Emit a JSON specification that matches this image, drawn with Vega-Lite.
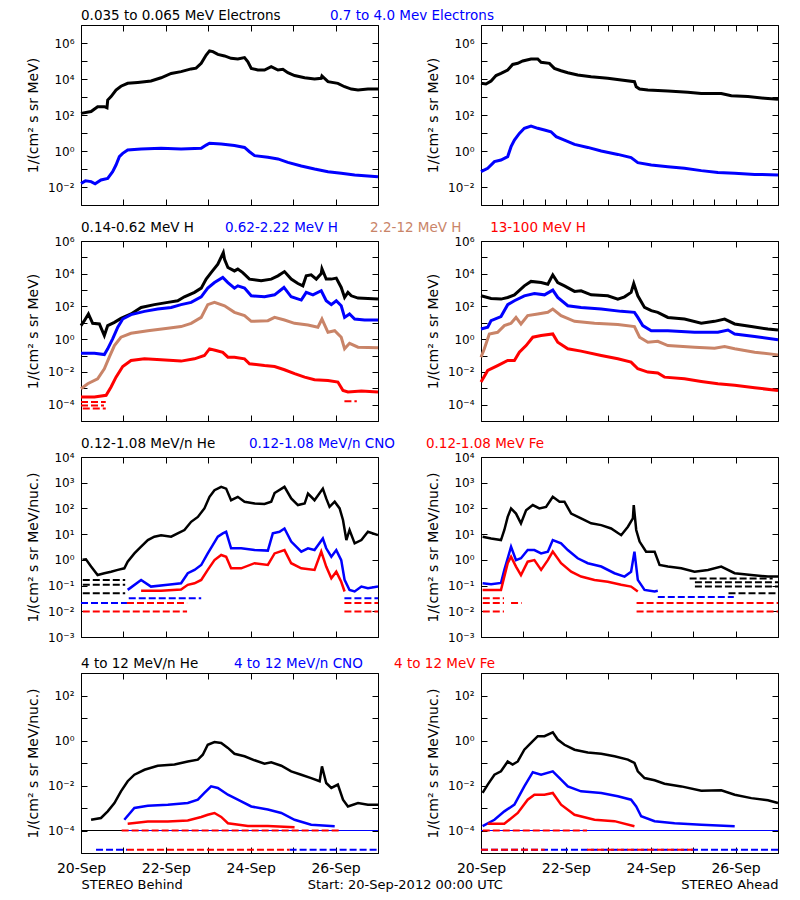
{
"$schema": "https://vega.github.io/schema/vega-lite/v6.json",
"background": "white",
"padding": {"left": 26, "top": 8, "right": 5, "bottom": 5},
"config": {
 "view": {"stroke": "#000000", "strokeWidth": 1},
 "axis": {"ticks": false, "domain": false, "grid": true, "gridColor": "#000000", "gridOpacity": 1, "gridWidth": 1, "labelFlush": false, "labelOverlap": false, "labelColor": "#000000", "titleColor": "#000000", "labelFont": "DejaVu Sans", "titleFont": "DejaVu Sans", "titleFontWeight": "normal"},
 "axisX": {"gridDash": [6, 168], "labelFontSize": 14, "labelPadding": 8, "titleFontSize": 13, "titlePadding": 3},
 "axisY": {"gridDash": [6, 285], "labelFontSize": 12, "labelPadding": 7, "titleFontSize": 14, "titlePadding": 7},
 "text": {"font": "DejaVu Sans", "fontSize": 13.5}
},
"title": {"text": "Start: 20-Sep-2012 00:00 UTC", "orient": "bottom", "anchor": "middle", "frame": "bounds", "offset": -13, "font": "DejaVu Sans", "fontSize": 13, "fontWeight": "normal", "color": "#000000"},
"datasets": {
"labels": [
{"p":"B1","k":1,"s":"lo","label":"0.035 to 0.065 MeV Electrons"},{"p":"B1","k":2,"s":"hi","label":"0.7 to 4.0 Mev Electrons"},
{"p":"B2","k":1,"s":"p1","label":"0.14-0.62 MeV H"},{"p":"B2","k":2,"s":"p2","label":"0.62-2.22 MeV H"},{"p":"B2","k":3,"s":"p3","label":"2.2-12 MeV H"},{"p":"A2","k":1,"s":"p4","label":"13-100 MeV H"},
{"p":"B3","k":1,"s":"he","label":"0.12-1.08 MeV/n He"},{"p":"B3","k":2,"s":"cno","label":"0.12-1.08 MeV/n CNO"},{"p":"B3","k":3,"s":"fe","label":"0.12-1.08 MeV Fe"},
{"p":"B4","k":1,"s":"he","label":"4 to 12 MeV/n He"},{"p":"B4","k":2,"s":"cno","label":"4 to 12 MeV/n CNO"},{"p":"B4","k":3,"s":"fe","label":"4 to 12 MeV Fe"}
],
"B1": [
{"h":0,"s":"lo","v":123},{"h":5.7,"s":"lo","v":155},{"h":9.4,"s":"lo","v":288},{"h":13.2,"s":"lo","v":288},{"h":14.7,"s":"lo","v":250},{"h":15.1,"s":"lo","v":676},{"h":17,"s":"lo","v":1050},{"h":19.8,"s":"lo","v":2450},{"h":22.6,"s":"lo","v":3980},{"h":26.4,"s":"lo","v":5750},{"h":32.1,"s":"lo","v":6460},{"h":39.6,"s":"lo","v":7760},{"h":45.3,"s":"lo","v":11700},{"h":51,"s":"lo","v":20400},{"h":56.6,"s":"lo","v":25700},{"h":62.3,"s":"lo","v":36300},{"h":65.1,"s":"lo","v":39800},{"h":68,"s":"lo","v":74100},{"h":70.8,"s":"lo","v":214000},{"h":72.7,"s":"lo","v":363000},{"h":74.6,"s":"lo","v":331000},{"h":77.4,"s":"lo","v":234000},{"h":81.2,"s":"lo","v":191000},{"h":84.9,"s":"lo","v":141000},{"h":88.7,"s":"lo","v":129000},{"h":92.5,"s":"lo","v":155000},{"h":94.4,"s":"lo","v":91200},{"h":96.3,"s":"lo","v":38900},{"h":100,"s":"lo","v":31600},{"h":103.8,"s":"lo","v":31600},{"h":107.6,"s":"lo","v":49000},{"h":111.4,"s":"lo","v":31600},{"h":114.2,"s":"lo","v":34700},{"h":117,"s":"lo","v":22400},{"h":120.8,"s":"lo","v":15500},{"h":126.5,"s":"lo","v":11700},{"h":132.1,"s":"lo","v":10000},{"h":135.9,"s":"lo","v":11000},{"h":136.3,"s":"lo","v":14800},{"h":139.7,"s":"lo","v":7080},{"h":145.3,"s":"lo","v":5750},{"h":149.1,"s":"lo","v":3720},{"h":152.9,"s":"lo","v":2750},{"h":156.7,"s":"lo","v":2450},{"h":162.3,"s":"lo","v":2750},{"h":168,"s":"lo","v":2750},
{"h":0,"s":"hi","v":0.0158},{"h":2.5,"s":"hi","v":0.022},{"h":5.7,"s":"hi","v":0.02},{"h":8,"s":"hi","v":0.015},{"h":11.3,"s":"hi","v":0.0245},{"h":15.1,"s":"hi","v":0.03},{"h":17.9,"s":"hi","v":0.0708},{"h":19.8,"s":"hi","v":0.166},{"h":21.7,"s":"hi","v":0.49},{"h":23.6,"s":"hi","v":0.74},{"h":26.4,"s":"hi","v":1.15},{"h":34,"s":"hi","v":1.29},{"h":45.3,"s":"hi","v":1.41},{"h":56.6,"s":"hi","v":1.29},{"h":68,"s":"hi","v":1.41},{"h":70.8,"s":"hi","v":2.14},{"h":72.7,"s":"hi","v":2.69},{"h":79.3,"s":"hi","v":2.45},{"h":86.8,"s":"hi","v":2.0},{"h":92.5,"s":"hi","v":1.58},{"h":95.3,"s":"hi","v":0.91},{"h":98.2,"s":"hi","v":0.55},{"h":105.7,"s":"hi","v":0.447},{"h":111.4,"s":"hi","v":0.363},{"h":117,"s":"hi","v":0.234},{"h":124.6,"s":"hi","v":0.148},{"h":132.1,"s":"hi","v":0.1},{"h":139.7,"s":"hi","v":0.0708},{"h":147.2,"s":"hi","v":0.0575},{"h":154.8,"s":"hi","v":0.0468},{"h":162.3,"s":"hi","v":0.0407},{"h":168,"s":"hi","v":0.0372}
],
"A1": [
{"h":0,"s":"lo","v":5750},{"h":2.8,"s":"lo","v":5300},{"h":5.7,"s":"lo","v":7760},{"h":8.5,"s":"lo","v":15500},{"h":11.3,"s":"lo","v":20400},{"h":15.1,"s":"lo","v":31600},{"h":17.9,"s":"lo","v":64600},{"h":20.8,"s":"lo","v":74100},{"h":23.6,"s":"lo","v":100000},{"h":28.3,"s":"lo","v":129000},{"h":32.1,"s":"lo","v":129000},{"h":34,"s":"lo","v":85100},{"h":38.7,"s":"lo","v":74100},{"h":41.5,"s":"lo","v":38900},{"h":45.3,"s":"lo","v":28800},{"h":49.1,"s":"lo","v":22400},{"h":54.7,"s":"lo","v":16600},{"h":62.3,"s":"lo","v":13500},{"h":71.7,"s":"lo","v":11000},{"h":79.3,"s":"lo","v":8710},{"h":86.8,"s":"lo","v":7080},{"h":87.8,"s":"lo","v":3720},{"h":89.7,"s":"lo","v":2750},{"h":94.4,"s":"lo","v":2450},{"h":105.7,"s":"lo","v":2140},{"h":117,"s":"lo","v":1820},{"h":124.6,"s":"lo","v":1580},{"h":135.9,"s":"lo","v":1580},{"h":141.6,"s":"lo","v":1170},{"h":151,"s":"lo","v":1050},{"h":160.4,"s":"lo","v":851},{"h":168,"s":"lo","v":741},
{"h":0,"s":"hi","v":0.0708},{"h":3.8,"s":"hi","v":0.11},{"h":7.6,"s":"hi","v":0.257},{"h":11.3,"s":"hi","v":0.316},{"h":15.1,"s":"hi","v":0.49},{"h":17,"s":"hi","v":1.74},{"h":18.9,"s":"hi","v":4.07},{"h":21.7,"s":"hi","v":9.55},{"h":24.5,"s":"hi","v":18.2},{"h":28.3,"s":"hi","v":24.5},{"h":32.1,"s":"hi","v":18.2},{"h":35.9,"s":"hi","v":14.8},{"h":39.6,"s":"hi","v":11.7},{"h":42.5,"s":"hi","v":6.31},{"h":47.2,"s":"hi","v":4.07},{"h":52.9,"s":"hi","v":2.34},{"h":60.4,"s":"hi","v":1.58},{"h":68,"s":"hi","v":1.0},{"h":77.4,"s":"hi","v":0.646},{"h":84.9,"s":"hi","v":0.427},{"h":88.7,"s":"hi","v":0.224},{"h":96.3,"s":"hi","v":0.166},{"h":105.7,"s":"hi","v":0.135},{"h":115.1,"s":"hi","v":0.11},{"h":124.6,"s":"hi","v":0.0813},{"h":134,"s":"hi","v":0.0646},{"h":143.5,"s":"hi","v":0.0575},{"h":154.8,"s":"hi","v":0.0501},{"h":168,"s":"hi","v":0.0468}
],
"B2": [
{"h":0,"s":"p1","v":6.76},{"h":1.9,"s":"p1","v":13.5},{"h":4.2,"s":"p1","v":34.7},{"h":6.6,"s":"p1","v":9.33},{"h":10.4,"s":"p1","v":8.51},{"h":13.2,"s":"p1","v":1.66},{"h":15.1,"s":"p1","v":6.76},{"h":18.9,"s":"p1","v":10.7},{"h":22.6,"s":"p1","v":18.6},{"h":28.3,"s":"p1","v":34.7},{"h":34,"s":"p1","v":87.1},{"h":41.5,"s":"p1","v":129},{"h":49.1,"s":"p1","v":178},{"h":54.7,"s":"p1","v":224},{"h":58.5,"s":"p1","v":389},{"h":64.2,"s":"p1","v":724},{"h":68,"s":"p1","v":1320},{"h":70.8,"s":"p1","v":4680},{"h":73.6,"s":"p1","v":11700},{"h":77.4,"s":"p1","v":38000},{"h":80.5,"s":"p1","v":195000},{"h":81.2,"s":"p1","v":75900},{"h":83.1,"s":"p1","v":24000},{"h":86.8,"s":"p1","v":14800},{"h":88.7,"s":"p1","v":19100},{"h":91.5,"s":"p1","v":11700},{"h":95.3,"s":"p1","v":4680},{"h":101.9,"s":"p1","v":3720},{"h":107.6,"s":"p1","v":4680},{"h":111.4,"s":"p1","v":7410},{"h":115.1,"s":"p1","v":13500},{"h":118.9,"s":"p1","v":4680},{"h":122.7,"s":"p1","v":2510},{"h":125.5,"s":"p1","v":1820},{"h":127.4,"s":"p1","v":7410},{"h":130.2,"s":"p1","v":8510},{"h":133.1,"s":"p1","v":4680},{"h":135.9,"s":"p1","v":10200},{"h":136.3,"s":"p1","v":20000},{"h":138.7,"s":"p1","v":4680},{"h":141.6,"s":"p1","v":4680},{"h":144.4,"s":"p1","v":5370},{"h":147.2,"s":"p1","v":1450},{"h":149.1,"s":"p1","v":355},{"h":151,"s":"p1","v":724},{"h":152.9,"s":"p1","v":447},{"h":156.7,"s":"p1","v":324},{"h":162.3,"s":"p1","v":309},{"h":168,"s":"p1","v":282},
{"h":0,"s":"p2","v":0.138},{"h":7.6,"s":"p2","v":0.138},{"h":13.2,"s":"p2","v":0.115},{"h":15.1,"s":"p2","v":0.257},{"h":17.9,"s":"p2","v":1.05},{"h":20.8,"s":"p2","v":5.37},{"h":23.6,"s":"p2","v":17},{"h":28.3,"s":"p2","v":31.6},{"h":35.9,"s":"p2","v":50.1},{"h":43.4,"s":"p2","v":69.2},{"h":51,"s":"p2","v":87.1},{"h":56.6,"s":"p2","v":129},{"h":62.3,"s":"p2","v":178},{"h":68,"s":"p2","v":389},{"h":71.7,"s":"p2","v":1320},{"h":75.5,"s":"p2","v":2880},{"h":80.2,"s":"p2","v":5890},{"h":83.1,"s":"p2","v":2880},{"h":86.8,"s":"p2","v":1320},{"h":88.7,"s":"p2","v":1820},{"h":92.5,"s":"p2","v":1320},{"h":96.3,"s":"p2","v":447},{"h":103.8,"s":"p2","v":389},{"h":109.5,"s":"p2","v":513},{"h":114.8,"s":"p2","v":1450},{"h":118.9,"s":"p2","v":389},{"h":124.6,"s":"p2","v":245},{"h":127.4,"s":"p2","v":724},{"h":131.2,"s":"p2","v":513},{"h":135.9,"s":"p2","v":912},{"h":138.7,"s":"p2","v":224},{"h":141.6,"s":"p2","v":129},{"h":144.4,"s":"p2","v":224},{"h":147.2,"s":"p2","v":110},{"h":149.1,"s":"p2","v":21.4},{"h":151.9,"s":"p2","v":34.7},{"h":154.8,"s":"p2","v":17},{"h":160.4,"s":"p2","v":14.8},{"h":168,"s":"p2","v":14.8},
{"h":0,"s":"p3","v":0.00093},{"h":3.8,"s":"p3","v":0.0019},{"h":9.4,"s":"p3","v":0.0038},{"h":13.2,"s":"p3","v":0.0155},{"h":16,"s":"p3","v":0.0794},{"h":18.9,"s":"p3","v":0.407},{"h":22.6,"s":"p3","v":1.32},{"h":28.3,"s":"p3","v":2.29},{"h":37.8,"s":"p3","v":3.31},{"h":49.1,"s":"p3","v":4.68},{"h":56.6,"s":"p3","v":5.89},{"h":62.3,"s":"p3","v":9.33},{"h":68,"s":"p3","v":21.4},{"h":71.7,"s":"p3","v":129},{"h":75.5,"s":"p3","v":178},{"h":81.2,"s":"p3","v":110},{"h":86.8,"s":"p3","v":43.7},{"h":92.5,"s":"p3","v":27.5},{"h":96.3,"s":"p3","v":12.3},{"h":105.7,"s":"p3","v":13.5},{"h":109.5,"s":"p3","v":21.4},{"h":115.1,"s":"p3","v":14.8},{"h":120.8,"s":"p3","v":9.33},{"h":128.4,"s":"p3","v":7.41},{"h":134,"s":"p3","v":5.37},{"h":136.3,"s":"p3","v":17},{"h":139.7,"s":"p3","v":2.63},{"h":143.5,"s":"p3","v":3.31},{"h":147.2,"s":"p3","v":1.32},{"h":149.1,"s":"p3","v":0.257},{"h":151.9,"s":"p3","v":0.562},{"h":156.7,"s":"p3","v":0.324},{"h":168,"s":"p3","v":0.295},
{"h":0,"s":"p4","v":0.000295},{"h":7.6,"s":"p4","v":0.000295},{"h":14.2,"s":"p4","v":0.000372},{"h":17,"s":"p4","v":0.0012},{"h":19.8,"s":"p4","v":0.00479},{"h":23.6,"s":"p4","v":0.0214},{"h":28.3,"s":"p4","v":0.0501},{"h":35.9,"s":"p4","v":0.0631},{"h":45.3,"s":"p4","v":0.055},{"h":56.6,"s":"p4","v":0.0457},{"h":64.2,"s":"p4","v":0.0631},{"h":69.8,"s":"p4","v":0.1},{"h":72.7,"s":"p4","v":0.257},{"h":76.4,"s":"p4","v":0.204},{"h":80.2,"s":"p4","v":0.158},{"h":83.1,"s":"p4","v":0.0794},{"h":86.8,"s":"p4","v":0.0794},{"h":92.5,"s":"p4","v":0.0631},{"h":95.3,"s":"p4","v":0.0316},{"h":103.8,"s":"p4","v":0.0245},{"h":109.5,"s":"p4","v":0.0214},{"h":115.1,"s":"p4","v":0.0135},{"h":120.8,"s":"p4","v":0.00776},{"h":126.5,"s":"p4","v":0.00479},{"h":132.1,"s":"p4","v":0.00331},{"h":139.7,"s":"p4","v":0.00302},{"h":145.3,"s":"p4","v":0.0024},{"h":148.2,"s":"p4","v":0.00074},{"h":151,"s":"p4","v":0.00059},{"h":158.6,"s":"p4","v":0.00068},{"h":168,"s":"p4","v":0.00059}
],
"A2": [
{"h":0,"s":"p1","v":447},{"h":5.7,"s":"p1","v":309},{"h":11.3,"s":"p1","v":282},{"h":15.1,"s":"p1","v":355},{"h":18.9,"s":"p1","v":513},{"h":24.5,"s":"p1","v":1820},{"h":28.3,"s":"p1","v":3390},{"h":34,"s":"p1","v":2880},{"h":37.8,"s":"p1","v":2290},{"h":40.6,"s":"p1","v":8510},{"h":43.4,"s":"p1","v":2880},{"h":47.2,"s":"p1","v":1820},{"h":52.9,"s":"p1","v":832},{"h":56.6,"s":"p1","v":912},{"h":62.3,"s":"p1","v":513},{"h":71.7,"s":"p1","v":447},{"h":77.4,"s":"p1","v":282},{"h":81.2,"s":"p1","v":389},{"h":84.9,"s":"p1","v":724},{"h":86.4,"s":"p1","v":2510},{"h":88.7,"s":"p1","v":447},{"h":92.5,"s":"p1","v":87.1},{"h":96.3,"s":"p1","v":55},{"h":100,"s":"p1","v":43.7},{"h":105.7,"s":"p1","v":21.4},{"h":115.1,"s":"p1","v":17},{"h":124.6,"s":"p1","v":9.33},{"h":132.1,"s":"p1","v":12.3},{"h":137.8,"s":"p1","v":17},{"h":143.5,"s":"p1","v":8.51},{"h":152.9,"s":"p1","v":5.89},{"h":162.3,"s":"p1","v":4.17},{"h":168,"s":"p1","v":3.63},
{"h":0,"s":"p2","v":4.17},{"h":3.8,"s":"p2","v":5.37},{"h":5.7,"s":"p2","v":13.5},{"h":11.3,"s":"p2","v":24},{"h":15.1,"s":"p2","v":129},{"h":18.9,"s":"p2","v":224},{"h":24.5,"s":"p2","v":447},{"h":30.2,"s":"p2","v":617},{"h":35.9,"s":"p2","v":513},{"h":40.6,"s":"p2","v":1000},{"h":43.4,"s":"p2","v":355},{"h":49.1,"s":"p2","v":110},{"h":56.6,"s":"p2","v":87.1},{"h":68,"s":"p2","v":69.2},{"h":79.3,"s":"p2","v":50.1},{"h":86.8,"s":"p2","v":43.7},{"h":88.7,"s":"p2","v":21.4},{"h":91.5,"s":"p2","v":6.76},{"h":96.3,"s":"p2","v":3.31},{"h":105.7,"s":"p2","v":3.31},{"h":120.8,"s":"p2","v":2.63},{"h":134,"s":"p2","v":2.63},{"h":139.7,"s":"p2","v":3.63},{"h":143.5,"s":"p2","v":2.09},{"h":154.8,"s":"p2","v":1.45},{"h":168,"s":"p2","v":0.912},
{"h":0,"s":"p3","v":0.0794},{"h":1.9,"s":"p3","v":0.257},{"h":4.7,"s":"p3","v":2.09},{"h":9.4,"s":"p3","v":2.63},{"h":13.2,"s":"p3","v":6.76},{"h":17,"s":"p3","v":9.33},{"h":19.8,"s":"p3","v":21.4},{"h":22.6,"s":"p3","v":8.51},{"h":26.4,"s":"p3","v":27.5},{"h":32.1,"s":"p3","v":34.7},{"h":37.8,"s":"p3","v":43.7},{"h":40.6,"s":"p3","v":69.2},{"h":45.3,"s":"p3","v":27.5},{"h":52.9,"s":"p3","v":12.3},{"h":64.2,"s":"p3","v":9.33},{"h":77.4,"s":"p3","v":7.76},{"h":86.8,"s":"p3","v":5.89},{"h":89.7,"s":"p3","v":1.32},{"h":94.4,"s":"p3","v":0.646},{"h":100,"s":"p3","v":0.741},{"h":105.7,"s":"p3","v":0.407},{"h":120.8,"s":"p3","v":0.324},{"h":132.1,"s":"p3","v":0.282},{"h":137.8,"s":"p3","v":0.355},{"h":143.5,"s":"p3","v":0.257},{"h":154.8,"s":"p3","v":0.158},{"h":168,"s":"p3","v":0.11},
{"h":0,"s":"p4","v":0.0024},{"h":3.8,"s":"p4","v":0.0123},{"h":9.4,"s":"p4","v":0.0245},{"h":15.1,"s":"p4","v":0.0501},{"h":18.9,"s":"p4","v":0.0501},{"h":21.7,"s":"p4","v":0.158},{"h":25.5,"s":"p4","v":0.407},{"h":29.3,"s":"p4","v":1.32},{"h":34,"s":"p4","v":1.66},{"h":40.6,"s":"p4","v":2.09},{"h":43.4,"s":"p4","v":0.646},{"h":49.1,"s":"p4","v":0.257},{"h":56.6,"s":"p4","v":0.186},{"h":68,"s":"p4","v":0.1},{"h":77.4,"s":"p4","v":0.0631},{"h":84.9,"s":"p4","v":0.0398},{"h":88.7,"s":"p4","v":0.0155},{"h":94.4,"s":"p4","v":0.0098},{"h":100,"s":"p4","v":0.0085},{"h":103.8,"s":"p4","v":0.00479},{"h":115.1,"s":"p4","v":0.0038},{"h":124.6,"s":"p4","v":0.00263},{"h":134,"s":"p4","v":0.0019},{"h":143.5,"s":"p4","v":0.00151},{"h":154.8,"s":"p4","v":0.00107},{"h":168,"s":"p4","v":0.00074}
],
"B3": [
{"h":0.9,"s":"he","v":1.0},{"h":2.8,"s":"he","v":1.05},{"h":5.7,"s":"he","v":0.55},{"h":9.4,"s":"he","v":0.257},{"h":13.2,"s":"he","v":0.302},{"h":17,"s":"he","v":0.347},{"h":20.8,"s":"he","v":0.407},{"h":24.5,"s":"he","v":0.468},{"h":26.4,"s":"he","v":0.851},{"h":30.2,"s":"he","v":1.78},{"h":34,"s":"he","v":3.24},{"h":37.8,"s":"he","v":5.89},{"h":41.5,"s":"he","v":7.94},{"h":45.3,"s":"he","v":9.12},{"h":51,"s":"he","v":7.94},{"h":54.7,"s":"he","v":10.7},{"h":58.5,"s":"he","v":14.5},{"h":62.3,"s":"he","v":30.2},{"h":66.1,"s":"he","v":46.8},{"h":69.8,"s":"he","v":100},{"h":72.7,"s":"he","v":282},{"h":75.5,"s":"he","v":513},{"h":79.3,"s":"he","v":692},{"h":82.1,"s":"he","v":589},{"h":84.9,"s":"he","v":209},{"h":88.7,"s":"he","v":282},{"h":92.5,"s":"he","v":182},{"h":98.2,"s":"he","v":155},{"h":103.8,"s":"he","v":148},{"h":107.6,"s":"he","v":182},{"h":109.5,"s":"he","v":398},{"h":115.1,"s":"he","v":692},{"h":118.9,"s":"he","v":245},{"h":122.7,"s":"he","v":135},{"h":126.5,"s":"he","v":155},{"h":128.4,"s":"he","v":380},{"h":132.1,"s":"he","v":209},{"h":136.8,"s":"he","v":589},{"h":138.7,"s":"he","v":245},{"h":140.6,"s":"he","v":115},{"h":143.5,"s":"he","v":182},{"h":146.3,"s":"he","v":100},{"h":148.2,"s":"he","v":35.5},{"h":150.1,"s":"he","v":5.89},{"h":151.9,"s":"he","v":14.5},{"h":154.8,"s":"he","v":4.37},{"h":158.6,"s":"he","v":5.89},{"h":162.3,"s":"he","v":12.3},{"h":168,"s":"he","v":9.12},
{"h":26.4,"s":"cno","v":0.068},{"h":34,"s":"cno","v":0.166},{"h":39.6,"s":"cno","v":0.0912},{"h":49.1,"s":"cno","v":0.107},{"h":56.6,"s":"cno","v":0.123},{"h":60.4,"s":"cno","v":0.302},{"h":64.2,"s":"cno","v":0.407},{"h":68,"s":"cno","v":0.631},{"h":71.7,"s":"cno","v":1.78},{"h":74.6,"s":"cno","v":3.8},{"h":77.4,"s":"cno","v":7.94},{"h":80.2,"s":"cno","v":10.7},{"h":82.1,"s":"cno","v":12.3},{"h":84.9,"s":"cno","v":2.82},{"h":90.6,"s":"cno","v":2.82},{"h":98.2,"s":"cno","v":2.4},{"h":105.7,"s":"cno","v":2.29},{"h":108.5,"s":"cno","v":10.7},{"h":112.3,"s":"cno","v":12.3},{"h":115.1,"s":"cno","v":16.6},{"h":118.9,"s":"cno","v":5.13},{"h":124.6,"s":"cno","v":2.09},{"h":128.4,"s":"cno","v":2.82},{"h":132.1,"s":"cno","v":2.4},{"h":136.8,"s":"cno","v":6.76},{"h":138.7,"s":"cno","v":2.82},{"h":141.6,"s":"cno","v":1.32},{"h":144.4,"s":"cno","v":2.4},{"h":147.2,"s":"cno","v":0.977},{"h":149.1,"s":"cno","v":0.166},{"h":151.9,"s":"cno","v":0.0676},{"h":154.8,"s":"cno","v":0.0589},{"h":158.6,"s":"cno","v":0.0912},{"h":162.3,"s":"cno","v":0.0794},{"h":168,"s":"cno","v":0.0912},
{"h":34,"s":"fe","v":0.063},{"h":45.3,"s":"fe","v":0.063},{"h":56.6,"s":"fe","v":0.0708},{"h":60.4,"s":"fe","v":0.107},{"h":64.2,"s":"fe","v":0.123},{"h":68,"s":"fe","v":0.166},{"h":71.7,"s":"fe","v":0.407},{"h":75.5,"s":"fe","v":0.977},{"h":79.3,"s":"fe","v":1.55},{"h":82.1,"s":"fe","v":1.32},{"h":84.9,"s":"fe","v":0.468},{"h":90.6,"s":"fe","v":0.468},{"h":98.2,"s":"fe","v":0.741},{"h":105.7,"s":"fe","v":0.631},{"h":109.5,"s":"fe","v":1.78},{"h":115.1,"s":"fe","v":2.4},{"h":118.9,"s":"fe","v":0.741},{"h":124.6,"s":"fe","v":0.468},{"h":132.1,"s":"fe","v":0.407},{"h":135.9,"s":"fe","v":2.09},{"h":138.7,"s":"fe","v":0.55},{"h":141.6,"s":"fe","v":0.191},{"h":144.4,"s":"fe","v":0.347},{"h":147.2,"s":"fe","v":0.141},{"h":149.1,"s":"fe","v":0.0589}
],
"A3": [
{"h":0.9,"s":"he","v":7.94},{"h":5.7,"s":"he","v":6.76},{"h":11.3,"s":"he","v":5.89},{"h":13.2,"s":"he","v":14.5},{"h":15.1,"s":"he","v":46.8},{"h":17,"s":"he","v":100},{"h":19.8,"s":"he","v":63.1},{"h":22.6,"s":"he","v":26.3},{"h":25.5,"s":"he","v":85.1},{"h":29.3,"s":"he","v":135},{"h":33,"s":"he","v":100},{"h":36.8,"s":"he","v":115},{"h":40.6,"s":"he","v":282},{"h":44.4,"s":"he","v":182},{"h":47.2,"s":"he","v":182},{"h":51,"s":"he","v":63.1},{"h":56.6,"s":"he","v":40.7},{"h":62.3,"s":"he","v":26.3},{"h":68,"s":"he","v":22.4},{"h":73.6,"s":"he","v":16.6},{"h":79.3,"s":"he","v":9.12},{"h":83.1,"s":"he","v":19.5},{"h":85.9,"s":"he","v":40.7},{"h":86.4,"s":"he","v":135},{"h":87.8,"s":"he","v":14.5},{"h":89.7,"s":"he","v":5.13},{"h":93.4,"s":"he","v":2.09},{"h":98.2,"s":"he","v":2.09},{"h":101,"s":"he","v":0.631},{"h":105.7,"s":"he","v":0.55},{"h":113.3,"s":"he","v":0.468},{"h":120.8,"s":"he","v":0.347},{"h":128.4,"s":"he","v":0.407},{"h":135.9,"s":"he","v":0.55},{"h":143.5,"s":"he","v":0.302},{"h":152.9,"s":"he","v":0.257},{"h":162.3,"s":"he","v":0.224},{"h":168,"s":"he","v":0.224},
{"h":0.9,"s":"cno","v":0.123},{"h":5.7,"s":"cno","v":0.112},{"h":11.3,"s":"cno","v":0.126},{"h":13.2,"s":"cno","v":0.407},{"h":17,"s":"cno","v":3.24},{"h":19.8,"s":"cno","v":0.977},{"h":22.6,"s":"cno","v":1.15},{"h":26.4,"s":"cno","v":2.4},{"h":30.2,"s":"cno","v":2.4},{"h":34,"s":"cno","v":1.78},{"h":37.8,"s":"cno","v":2.09},{"h":40.6,"s":"cno","v":5.89},{"h":45.3,"s":"cno","v":4.37},{"h":49.1,"s":"cno","v":2.4},{"h":54.7,"s":"cno","v":1.15},{"h":60.4,"s":"cno","v":0.741},{"h":68,"s":"cno","v":0.55},{"h":75.5,"s":"cno","v":0.302},{"h":81.2,"s":"cno","v":0.224},{"h":84.9,"s":"cno","v":0.347},{"h":86.8,"s":"cno","v":2.09},{"h":88.7,"s":"cno","v":0.166},{"h":92.5,"s":"cno","v":0.0676},{"h":98.2,"s":"cno","v":0.0589},{"h":100,"s":"cno","v":0.063},
{"h":0.9,"s":"fe","v":0.0676},{"h":11.3,"s":"fe","v":0.0676},{"h":15.1,"s":"fe","v":0.741},{"h":17,"s":"fe","v":1.32},{"h":19.8,"s":"fe","v":0.55},{"h":22.6,"s":"fe","v":0.257},{"h":26.4,"s":"fe","v":0.851},{"h":30.2,"s":"fe","v":0.977},{"h":34,"s":"fe","v":0.407},{"h":37.8,"s":"fe","v":0.977},{"h":40.6,"s":"fe","v":2.09},{"h":45.3,"s":"fe","v":0.741},{"h":51,"s":"fe","v":0.347},{"h":56.6,"s":"fe","v":0.224},{"h":64.2,"s":"fe","v":0.166},{"h":71.7,"s":"fe","v":0.141},{"h":79.3,"s":"fe","v":0.107},{"h":84.9,"s":"fe","v":0.0912},{"h":88.7,"s":"fe","v":0.0589}
],
"B4": [
{"h":5.7,"s":"he","v":0.0003},{"h":11.3,"s":"he","v":0.00036},{"h":15.1,"s":"he","v":0.00071},{"h":18.9,"s":"he","v":0.00166},{"h":22.6,"s":"he","v":0.0055},{"h":26.4,"s":"he","v":0.0155},{"h":30.2,"s":"he","v":0.0302},{"h":35.9,"s":"he","v":0.0501},{"h":43.4,"s":"he","v":0.0759},{"h":52.9,"s":"he","v":0.0851},{"h":60.4,"s":"he","v":0.117},{"h":66.1,"s":"he","v":0.141},{"h":68.9,"s":"he","v":0.234},{"h":71.7,"s":"he","v":0.646},{"h":75.5,"s":"he","v":0.851},{"h":79.3,"s":"he","v":0.776},{"h":83.1,"s":"he","v":0.468},{"h":86.8,"s":"he","v":0.257},{"h":92.5,"s":"he","v":0.2},{"h":98.2,"s":"he","v":0.132},{"h":103.8,"s":"he","v":0.0933},{"h":107.6,"s":"he","v":0.107},{"h":113.3,"s":"he","v":0.0759},{"h":118.9,"s":"he","v":0.0427},{"h":124.6,"s":"he","v":0.0302},{"h":130.2,"s":"he","v":0.0214},{"h":135,"s":"he","v":0.0155},{"h":136.3,"s":"he","v":0.0708},{"h":138.7,"s":"he","v":0.0129},{"h":141.6,"s":"he","v":0.00776},{"h":145.3,"s":"he","v":0.011},{"h":148.2,"s":"he","v":0.00234},{"h":151,"s":"he","v":0.00117},{"h":156.7,"s":"he","v":0.00166},{"h":162.3,"s":"he","v":0.00141},{"h":168,"s":"he","v":0.00141},
{"h":24.5,"s":"cno","v":0.0003},{"h":30.2,"s":"cno","v":0.001},{"h":37.8,"s":"cno","v":0.00126},{"h":49.1,"s":"cno","v":0.00141},{"h":60.4,"s":"cno","v":0.00166},{"h":66.1,"s":"cno","v":0.00234},{"h":69.8,"s":"cno","v":0.00468},{"h":73.6,"s":"cno","v":0.00912},{"h":77.4,"s":"cno","v":0.00776},{"h":83.1,"s":"cno","v":0.00389},{"h":88.7,"s":"cno","v":0.00234},{"h":96.3,"s":"cno","v":0.00117},{"h":105.7,"s":"cno","v":0.00085},{"h":113.3,"s":"cno","v":0.0006},{"h":120.8,"s":"cno","v":0.0003},{"h":130.2,"s":"cno","v":0.00018},{"h":143.5,"s":"cno","v":0.000155},
{"h":26.4,"s":"fe","v":0.0002},{"h":37.8,"s":"fe","v":0.00025},{"h":49.1,"s":"fe","v":0.00025},{"h":60.4,"s":"fe","v":0.00028},{"h":68,"s":"fe","v":0.0004},{"h":71.7,"s":"fe","v":0.0005},{"h":75.5,"s":"fe","v":0.0006},{"h":79.3,"s":"fe","v":0.0004},{"h":83.1,"s":"fe","v":0.00021},{"h":94.4,"s":"fe","v":0.00016},{"h":105.7,"s":"fe","v":0.00016},{"h":120.8,"s":"fe","v":0.00014}
],
"A4": [
{"h":0.9,"s":"he","v":0.00468},{"h":3.8,"s":"he","v":0.011},{"h":7.6,"s":"he","v":0.0302},{"h":11.3,"s":"he","v":0.0427},{"h":15.1,"s":"he","v":0.117},{"h":17.9,"s":"he","v":0.0851},{"h":20.8,"s":"he","v":0.117},{"h":24.5,"s":"he","v":0.389},{"h":28.3,"s":"he","v":0.776},{"h":32.1,"s":"he","v":1.55},{"h":35.9,"s":"he","v":1.55},{"h":40.6,"s":"he","v":2.29},{"h":43.4,"s":"he","v":1.1},{"h":47.2,"s":"he","v":0.646},{"h":52.9,"s":"he","v":0.389},{"h":60.4,"s":"he","v":0.295},{"h":68,"s":"he","v":0.257},{"h":75.5,"s":"he","v":0.2},{"h":83.1,"s":"he","v":0.141},{"h":86.8,"s":"he","v":0.1},{"h":88.7,"s":"he","v":0.0427},{"h":92.5,"s":"he","v":0.0214},{"h":98.2,"s":"he","v":0.017},{"h":103.8,"s":"he","v":0.012},{"h":113.3,"s":"he","v":0.00912},{"h":124.6,"s":"he","v":0.00589},{"h":135.9,"s":"he","v":0.00617},{"h":143.5,"s":"he","v":0.00389},{"h":152.9,"s":"he","v":0.00275},{"h":162.3,"s":"he","v":0.00219},{"h":168,"s":"he","v":0.00166},
{"h":0.9,"s":"cno","v":0.000155},{"h":7.6,"s":"cno","v":0.0003},{"h":13.2,"s":"cno","v":0.00071},{"h":18.9,"s":"cno","v":0.00141},{"h":24.5,"s":"cno","v":0.00912},{"h":29.3,"s":"cno","v":0.0389},{"h":34,"s":"cno","v":0.0302},{"h":40.6,"s":"cno","v":0.0427},{"h":45.3,"s":"cno","v":0.0182},{"h":49.1,"s":"cno","v":0.00912},{"h":56.6,"s":"cno","v":0.0055},{"h":68,"s":"cno","v":0.00468},{"h":77.4,"s":"cno","v":0.00331},{"h":84.9,"s":"cno","v":0.00234},{"h":87.8,"s":"cno","v":0.00117},{"h":90.6,"s":"cno","v":0.00043},{"h":98.2,"s":"cno","v":0.00026},{"h":109.5,"s":"cno","v":0.00021},{"h":124.6,"s":"cno","v":0.00018},{"h":143.5,"s":"cno","v":0.000155},
{"h":3.8,"s":"fe","v":0.0002},{"h":13.2,"s":"fe","v":0.0002},{"h":20.8,"s":"fe","v":0.0006},{"h":26.4,"s":"fe","v":0.00234},{"h":30.2,"s":"fe","v":0.0039},{"h":35.9,"s":"fe","v":0.0039},{"h":40.6,"s":"fe","v":0.00468},{"h":45.3,"s":"fe","v":0.00141},{"h":52.9,"s":"fe","v":0.0005},{"h":64.2,"s":"fe","v":0.0003},{"h":75.5,"s":"fe","v":0.00026},{"h":86.8,"s":"fe","v":0.000155}
],
"floors": [
{"p":"B2","s":"p4","h1":0,"h2":14,"v":0.000145},{"p":"B2","s":"p4","h1":0,"h2":13,"v":0.00009},{"p":"B2","s":"p4","h1":1,"h2":14,"v":0.000058},{"p":"B2","s":"p4","h1":149,"h2":156,"v":0.00016},
{"p":"B3","s":"he","h1":1,"h2":25,"v":0.166},{"p":"B3","s":"he","h1":1,"h2":25,"v":0.107},{"p":"B3","s":"he","h1":1,"h2":25,"v":0.05},
{"p":"B3","s":"cno","h1":0,"h2":26,"v":0.021},{"p":"B3","s":"cno","h1":27,"h2":68,"v":0.0324},{"p":"B3","s":"cno","h1":149,"h2":168,"v":0.0324},
{"p":"B3","s":"fe","h1":1,"h2":60,"v":0.0098},{"p":"B3","s":"fe","h1":26,"h2":60,"v":0.021},{"p":"B3","s":"fe","h1":149,"h2":168,"v":0.021},{"p":"B3","s":"fe","h1":149,"h2":168,"v":0.0098},
{"p":"A3","s":"he","h1":118,"h2":165,"v":0.19},{"p":"A3","s":"he","h1":121,"h2":168,"v":0.135},{"p":"A3","s":"he","h1":121,"h2":168,"v":0.091},{"p":"A3","s":"he","h1":140,"h2":168,"v":0.05},
{"p":"A3","s":"cno","h1":100,"h2":143,"v":0.036},
{"p":"A3","s":"fe","h1":1,"h2":13,"v":0.0324},{"p":"A3","s":"fe","h1":1,"h2":13,"v":0.021},{"p":"A3","s":"fe","h1":17,"h2":23,"v":0.021},{"p":"A3","s":"fe","h1":1,"h2":13,"v":0.0098},{"p":"A3","s":"fe","h1":88,"h2":168,"v":0.021},{"p":"A3","s":"fe","h1":88,"h2":168,"v":0.0098},
{"p":"B4","s":"cno","h1":8.5,"h2":26,"v":0.000014},{"p":"B4","s":"cno","h1":118,"h2":168,"v":0.000014},{"p":"B4","s":"fe","h1":26,"h2":118,"v":0.000014},{"p":"B4","s":"fe","h1":23,"h2":147,"v":0.0001},
{"p":"A4","s":"cno","h1":0,"h2":168,"v":0.000014},{"p":"A4","s":"fe","h1":0,"h2":36,"v":0.000014},{"p":"A4","s":"fe","h1":60,"h2":120,"v":0.000014},{"p":"A4","s":"fe","h1":1,"h2":60,"v":0.0001}
],
"bases": [
{"p":"B4","s":"he","h1":0,"h2":24,"v":0.0001},{"p":"B4","s":"cno","h1":24,"h2":168,"v":0.0001},
{"p":"A4","s":"cno","h1":0,"h2":168,"v":0.0001}
]
},
"concat": [
{"width": 297, "height": 180, "layer": [
 {"data": {"name": "B1"}, "mark": {"type": "line", "strokeWidth": 3}, "encoding": {
  "x": {"field": "h", "type": "quantitative", "scale": {"domain": [0, 168], "nice": false, "zero": false}, "axis": {"values": [0,12,24,36,48,60,72,84,96,108,120,132,144,156,168], "labels": false, "title": null}},
  "y": {"field": "v", "type": "quantitative", "scale": {"type": "log", "domain": [0.001, 10000000], "nice": false}, "axis": {"values": [0.001,0.01,0.1,1,10,100,1000,10000,100000,1000000,10000000], "labelExpr": "round(log(datum.value)/LN10) % 2 == 0 ? '10' + ['⁻⁵','⁻⁴','⁻³','⁻²','⁻¹','⁰','¹','²','³','⁴','⁵','⁶','⁷'][round(log(datum.value)/LN10) + 5] : ''", "title": "1/(cm² s sr MeV)"}},
  "color": {"field": "s", "type": "nominal", "scale": {"domain": ["lo","hi","p1","p2","p3","p4","he","cno","fe"], "range": ["#000000","#0000ff","#000000","#0000ff","#c98468","#ff0000","#000000","#0000ff","#ff0000"]}, "legend": null}}},
 {"data": {"name": "labels"}, "transform": [{"filter": "datum.p == 'B1' && datum.k == 1"}], "mark": {"type": "text", "align": "left", "baseline": "alphabetic", "dy": -5}, "encoding": {"x": {"datum": 0, "type": "quantitative", "scale": {"domain": [0, 168], "nice": false, "zero": false}}, "y": {"datum": 10000000, "type": "quantitative", "scale": {"type": "log", "domain": [0.001, 10000000], "nice": false}}, "text": {"field": "label"}, "color": {"field": "s", "type": "nominal", "scale": {"domain": ["lo","hi","p1","p2","p3","p4","he","cno","fe"], "range": ["#000000","#0000ff","#000000","#0000ff","#c98468","#ff0000","#000000","#0000ff","#ff0000"]}, "legend": null}}},
 {"data": {"name": "labels"}, "transform": [{"filter": "datum.p == 'B1' && datum.k == 2"}], "mark": {"type": "text", "align": "left", "baseline": "alphabetic", "dy": -5}, "encoding": {"x": {"datum": 140.8, "type": "quantitative", "scale": {"domain": [0, 168], "nice": false, "zero": false}}, "y": {"datum": 10000000, "type": "quantitative", "scale": {"type": "log", "domain": [0.001, 10000000], "nice": false}}, "text": {"field": "label"}, "color": {"field": "s", "type": "nominal", "scale": {"domain": ["lo","hi","p1","p2","p3","p4","he","cno","fe"], "range": ["#000000","#0000ff","#000000","#0000ff","#c98468","#ff0000","#000000","#0000ff","#ff0000"]}, "legend": null}}}
]},
{"width": 297, "height": 180, "layer": [
 {"data": {"name": "A1"}, "mark": {"type": "line", "strokeWidth": 3}, "encoding": {
  "x": {"field": "h", "type": "quantitative", "scale": {"domain": [0, 168], "nice": false, "zero": false}, "axis": {"values": [0,12,24,36,48,60,72,84,96,108,120,132,144,156,168], "labels": false, "title": null}},
  "y": {"field": "v", "type": "quantitative", "scale": {"type": "log", "domain": [0.001, 10000000], "nice": false}, "axis": {"values": [0.001,0.01,0.1,1,10,100,1000,10000,100000,1000000,10000000], "labelExpr": "round(log(datum.value)/LN10) % 2 == 0 ? '10' + ['⁻⁵','⁻⁴','⁻³','⁻²','⁻¹','⁰','¹','²','³','⁴','⁵','⁶','⁷'][round(log(datum.value)/LN10) + 5] : ''", "title": "1/(cm² s sr MeV)"}},
  "color": {"field": "s", "type": "nominal", "scale": {"domain": ["lo","hi","p1","p2","p3","p4","he","cno","fe"], "range": ["#000000","#0000ff","#000000","#0000ff","#c98468","#ff0000","#000000","#0000ff","#ff0000"]}, "legend": null}}}
]},
{"width": 297, "height": 180, "layer": [
 {"data": {"name": "B2"}, "mark": {"type": "line", "strokeWidth": 3}, "encoding": {
  "x": {"field": "h", "type": "quantitative", "scale": {"domain": [0, 168], "nice": false, "zero": false}, "axis": {"values": [0,12,24,36,48,60,72,84,96,108,120,132,144,156,168], "labels": false, "title": null}},
  "y": {"field": "v", "type": "quantitative", "scale": {"type": "log", "domain": [0.00001, 1000000], "nice": false}, "axis": {"values": [0.00001,0.0001,0.001,0.01,0.1,1,10,100,1000,10000,100000,1000000], "labelExpr": "round(log(datum.value)/LN10) % 2 == 0 ? '10' + ['⁻⁵','⁻⁴','⁻³','⁻²','⁻¹','⁰','¹','²','³','⁴','⁵','⁶','⁷'][round(log(datum.value)/LN10) + 5] : ''", "title": "1/(cm² s sr MeV)"}},
  "color": {"field": "s", "type": "nominal", "scale": {"domain": ["lo","hi","p1","p2","p3","p4","he","cno","fe"], "range": ["#000000","#0000ff","#000000","#0000ff","#c98468","#ff0000","#000000","#0000ff","#ff0000"]}, "legend": null}}},
 {"data": {"name": "floors"}, "transform": [{"filter": "datum.p == 'B2'"}], "mark": {"type": "rule", "strokeWidth": 2, "strokeDash": [7, 3]}, "encoding": {
  "x": {"field": "h1", "type": "quantitative", "scale": {"domain": [0, 168], "nice": false, "zero": false}}, "x2": {"field": "h2"},
  "y": {"field": "v", "type": "quantitative", "scale": {"type": "log", "domain": [0.00001, 1000000], "nice": false}},
  "color": {"field": "s", "type": "nominal", "scale": {"domain": ["lo","hi","p1","p2","p3","p4","he","cno","fe"], "range": ["#000000","#0000ff","#000000","#0000ff","#c98468","#ff0000","#000000","#0000ff","#ff0000"]}, "legend": null}}},
 {"data": {"name": "labels"}, "transform": [{"filter": "datum.p == 'B2' && datum.k == 1"}], "mark": {"type": "text", "align": "left", "baseline": "alphabetic", "dy": -9}, "encoding": {"x": {"datum": 0, "type": "quantitative", "scale": {"domain": [0, 168], "nice": false, "zero": false}}, "y": {"datum": 1000000, "type": "quantitative", "scale": {"type": "log", "domain": [0.00001, 1000000], "nice": false}}, "text": {"field": "label"}, "color": {"field": "s", "type": "nominal", "scale": {"domain": ["lo","hi","p1","p2","p3","p4","he","cno","fe"], "range": ["#000000","#0000ff","#000000","#0000ff","#c98468","#ff0000","#000000","#0000ff","#ff0000"]}, "legend": null}}},
 {"data": {"name": "labels"}, "transform": [{"filter": "datum.p == 'B2' && datum.k == 2"}], "mark": {"type": "text", "align": "left", "baseline": "alphabetic", "dy": -9}, "encoding": {"x": {"datum": 81.4, "type": "quantitative", "scale": {"domain": [0, 168], "nice": false, "zero": false}}, "y": {"datum": 1000000, "type": "quantitative", "scale": {"type": "log", "domain": [0.00001, 1000000], "nice": false}}, "text": {"field": "label"}, "color": {"field": "s", "type": "nominal", "scale": {"domain": ["lo","hi","p1","p2","p3","p4","he","cno","fe"], "range": ["#000000","#0000ff","#000000","#0000ff","#c98468","#ff0000","#000000","#0000ff","#ff0000"]}, "legend": null}}},
 {"data": {"name": "labels"}, "transform": [{"filter": "datum.p == 'B2' && datum.k == 3"}], "mark": {"type": "text", "align": "left", "baseline": "alphabetic", "dy": -9}, "encoding": {"x": {"datum": 163.5, "type": "quantitative", "scale": {"domain": [0, 168], "nice": false, "zero": false}}, "y": {"datum": 1000000, "type": "quantitative", "scale": {"type": "log", "domain": [0.00001, 1000000], "nice": false}}, "text": {"field": "label"}, "color": {"field": "s", "type": "nominal", "scale": {"domain": ["lo","hi","p1","p2","p3","p4","he","cno","fe"], "range": ["#000000","#0000ff","#000000","#0000ff","#c98468","#ff0000","#000000","#0000ff","#ff0000"]}, "legend": null}}}
]},
{"width": 297, "height": 180, "layer": [
 {"data": {"name": "A2"}, "mark": {"type": "line", "strokeWidth": 3}, "encoding": {
  "x": {"field": "h", "type": "quantitative", "scale": {"domain": [0, 168], "nice": false, "zero": false}, "axis": {"values": [0,12,24,36,48,60,72,84,96,108,120,132,144,156,168], "labels": false, "title": null}},
  "y": {"field": "v", "type": "quantitative", "scale": {"type": "log", "domain": [0.00001, 1000000], "nice": false}, "axis": {"values": [0.00001,0.0001,0.001,0.01,0.1,1,10,100,1000,10000,100000,1000000], "labelExpr": "round(log(datum.value)/LN10) % 2 == 0 ? '10' + ['⁻⁵','⁻⁴','⁻³','⁻²','⁻¹','⁰','¹','²','³','⁴','⁵','⁶','⁷'][round(log(datum.value)/LN10) + 5] : ''", "title": "1/(cm² s sr MeV)"}},
  "color": {"field": "s", "type": "nominal", "scale": {"domain": ["lo","hi","p1","p2","p3","p4","he","cno","fe"], "range": ["#000000","#0000ff","#000000","#0000ff","#c98468","#ff0000","#000000","#0000ff","#ff0000"]}, "legend": null}}},
 {"data": {"name": "labels"}, "transform": [{"filter": "datum.p == 'A2' && datum.k == 1"}], "mark": {"type": "text", "align": "left", "baseline": "alphabetic", "dy": -9}, "encoding": {"x": {"datum": 5.2, "type": "quantitative", "scale": {"domain": [0, 168], "nice": false, "zero": false}}, "y": {"datum": 1000000, "type": "quantitative", "scale": {"type": "log", "domain": [0.00001, 1000000], "nice": false}}, "text": {"field": "label"}, "color": {"field": "s", "type": "nominal", "scale": {"domain": ["lo","hi","p1","p2","p3","p4","he","cno","fe"], "range": ["#000000","#0000ff","#000000","#0000ff","#c98468","#ff0000","#000000","#0000ff","#ff0000"]}, "legend": null}}}
]},
{"width": 297, "height": 180, "layer": [
 {"data": {"name": "B3"}, "mark": {"type": "line", "strokeWidth": 2.5}, "encoding": {
  "x": {"field": "h", "type": "quantitative", "scale": {"domain": [0, 168], "nice": false, "zero": false}, "axis": {"values": [0,12,24,36,48,60,72,84,96,108,120,132,144,156,168], "labels": false, "title": null}},
  "y": {"field": "v", "type": "quantitative", "scale": {"type": "log", "domain": [0.001, 10000], "nice": false}, "axis": {"values": [0.001,0.01,0.1,1,10,100,1000,10000], "labelExpr": "'10' + ['⁻⁵','⁻⁴','⁻³','⁻²','⁻¹','⁰','¹','²','³','⁴','⁵','⁶','⁷'][round(log(datum.value)/LN10) + 5]", "title": "1/(cm² s sr MeV/nuc.)"}},
  "color": {"field": "s", "type": "nominal", "scale": {"domain": ["lo","hi","p1","p2","p3","p4","he","cno","fe"], "range": ["#000000","#0000ff","#000000","#0000ff","#c98468","#ff0000","#000000","#0000ff","#ff0000"]}, "legend": null}}},
 {"data": {"name": "floors"}, "transform": [{"filter": "datum.p == 'B3'"}], "mark": {"type": "rule", "strokeWidth": 2, "strokeDash": [7, 3]}, "encoding": {
  "x": {"field": "h1", "type": "quantitative", "scale": {"domain": [0, 168], "nice": false, "zero": false}}, "x2": {"field": "h2"},
  "y": {"field": "v", "type": "quantitative", "scale": {"type": "log", "domain": [0.001, 10000], "nice": false}},
  "color": {"field": "s", "type": "nominal", "scale": {"domain": ["lo","hi","p1","p2","p3","p4","he","cno","fe"], "range": ["#000000","#0000ff","#000000","#0000ff","#c98468","#ff0000","#000000","#0000ff","#ff0000"]}, "legend": null}}},
 {"data": {"name": "labels"}, "transform": [{"filter": "datum.p == 'B3' && datum.k == 1"}], "mark": {"type": "text", "align": "left", "baseline": "alphabetic", "dy": -9}, "encoding": {"x": {"datum": 0, "type": "quantitative", "scale": {"domain": [0, 168], "nice": false, "zero": false}}, "y": {"datum": 10000, "type": "quantitative", "scale": {"type": "log", "domain": [0.001, 10000], "nice": false}}, "text": {"field": "label"}, "color": {"field": "s", "type": "nominal", "scale": {"domain": ["lo","hi","p1","p2","p3","p4","he","cno","fe"], "range": ["#000000","#0000ff","#000000","#0000ff","#c98468","#ff0000","#000000","#0000ff","#ff0000"]}, "legend": null}}},
 {"data": {"name": "labels"}, "transform": [{"filter": "datum.p == 'B3' && datum.k == 2"}], "mark": {"type": "text", "align": "left", "baseline": "alphabetic", "dy": -9}, "encoding": {"x": {"datum": 95, "type": "quantitative", "scale": {"domain": [0, 168], "nice": false, "zero": false}}, "y": {"datum": 10000, "type": "quantitative", "scale": {"type": "log", "domain": [0.001, 10000], "nice": false}}, "text": {"field": "label"}, "color": {"field": "s", "type": "nominal", "scale": {"domain": ["lo","hi","p1","p2","p3","p4","he","cno","fe"], "range": ["#000000","#0000ff","#000000","#0000ff","#c98468","#ff0000","#000000","#0000ff","#ff0000"]}, "legend": null}}},
 {"data": {"name": "labels"}, "transform": [{"filter": "datum.p == 'B3' && datum.k == 3"}], "mark": {"type": "text", "align": "left", "baseline": "alphabetic", "dy": -9}, "encoding": {"x": {"datum": 195.1, "type": "quantitative", "scale": {"domain": [0, 168], "nice": false, "zero": false}}, "y": {"datum": 10000, "type": "quantitative", "scale": {"type": "log", "domain": [0.001, 10000], "nice": false}}, "text": {"field": "label"}, "color": {"field": "s", "type": "nominal", "scale": {"domain": ["lo","hi","p1","p2","p3","p4","he","cno","fe"], "range": ["#000000","#0000ff","#000000","#0000ff","#c98468","#ff0000","#000000","#0000ff","#ff0000"]}, "legend": null}}}
]},
{"width": 297, "height": 180, "layer": [
 {"data": {"name": "A3"}, "mark": {"type": "line", "strokeWidth": 2.5}, "encoding": {
  "x": {"field": "h", "type": "quantitative", "scale": {"domain": [0, 168], "nice": false, "zero": false}, "axis": {"values": [0,12,24,36,48,60,72,84,96,108,120,132,144,156,168], "labels": false, "title": null}},
  "y": {"field": "v", "type": "quantitative", "scale": {"type": "log", "domain": [0.001, 10000], "nice": false}, "axis": {"values": [0.001,0.01,0.1,1,10,100,1000,10000], "labelExpr": "'10' + ['⁻⁵','⁻⁴','⁻³','⁻²','⁻¹','⁰','¹','²','³','⁴','⁵','⁶','⁷'][round(log(datum.value)/LN10) + 5]", "title": "1/(cm² s sr MeV/nuc.)"}},
  "color": {"field": "s", "type": "nominal", "scale": {"domain": ["lo","hi","p1","p2","p3","p4","he","cno","fe"], "range": ["#000000","#0000ff","#000000","#0000ff","#c98468","#ff0000","#000000","#0000ff","#ff0000"]}, "legend": null}}},
 {"data": {"name": "floors"}, "transform": [{"filter": "datum.p == 'A3'"}], "mark": {"type": "rule", "strokeWidth": 2, "strokeDash": [7, 3]}, "encoding": {
  "x": {"field": "h1", "type": "quantitative", "scale": {"domain": [0, 168], "nice": false, "zero": false}}, "x2": {"field": "h2"},
  "y": {"field": "v", "type": "quantitative", "scale": {"type": "log", "domain": [0.001, 10000], "nice": false}},
  "color": {"field": "s", "type": "nominal", "scale": {"domain": ["lo","hi","p1","p2","p3","p4","he","cno","fe"], "range": ["#000000","#0000ff","#000000","#0000ff","#c98468","#ff0000","#000000","#0000ff","#ff0000"]}, "legend": null}}}
]},
{"width": 297, "height": 180, "layer": [
 {"data": {"name": "B4"}, "mark": {"type": "line", "strokeWidth": 2.5}, "encoding": {
  "x": {"field": "h", "type": "quantitative", "scale": {"domain": [0, 168], "nice": false, "zero": false}, "axis": {"values": [0,12,24,36,48,60,72,84,96,108,120,132,144,156,168], "labelExpr": "datum.value % 48 == 0 ? ['20-Sep','22-Sep','24-Sep','26-Sep'][datum.value / 48] : ''", "title": "STEREO Behind", "titleAnchor": "start"}},
  "y": {"field": "v", "type": "quantitative", "scale": {"type": "log", "domain": [0.00001, 1000], "nice": false}, "axis": {"values": [0.00001,0.0001,0.001,0.01,0.1,1,10,100,1000], "labelExpr": "round(log(datum.value)/LN10) % 2 == 0 ? '10' + ['⁻⁵','⁻⁴','⁻³','⁻²','⁻¹','⁰','¹','²','³','⁴','⁵','⁶','⁷'][round(log(datum.value)/LN10) + 5] : ''", "title": "1/(cm² s sr MeV/nuc.)"}},
  "color": {"field": "s", "type": "nominal", "scale": {"domain": ["lo","hi","p1","p2","p3","p4","he","cno","fe"], "range": ["#000000","#0000ff","#000000","#0000ff","#c98468","#ff0000","#000000","#0000ff","#ff0000"]}, "legend": null}}},
 {"data": {"name": "bases"}, "transform": [{"filter": "datum.p == 'B4'"}], "mark": {"type": "rule", "strokeWidth": 1}, "encoding": {
  "x": {"field": "h1", "type": "quantitative", "scale": {"domain": [0, 168], "nice": false, "zero": false}}, "x2": {"field": "h2"},
  "y": {"field": "v", "type": "quantitative", "scale": {"type": "log", "domain": [0.00001, 1000], "nice": false}},
  "color": {"field": "s", "type": "nominal", "scale": {"domain": ["lo","hi","p1","p2","p3","p4","he","cno","fe"], "range": ["#000000","#0000ff","#000000","#0000ff","#c98468","#ff0000","#000000","#0000ff","#ff0000"]}, "legend": null}}},
 {"data": {"name": "floors"}, "transform": [{"filter": "datum.p == 'B4'"}], "mark": {"type": "rule", "strokeWidth": 2, "strokeDash": [7, 3]}, "encoding": {
  "x": {"field": "h1", "type": "quantitative", "scale": {"domain": [0, 168], "nice": false, "zero": false}}, "x2": {"field": "h2"},
  "y": {"field": "v", "type": "quantitative", "scale": {"type": "log", "domain": [0.00001, 1000], "nice": false}},
  "color": {"field": "s", "type": "nominal", "scale": {"domain": ["lo","hi","p1","p2","p3","p4","he","cno","fe"], "range": ["#000000","#0000ff","#000000","#0000ff","#c98468","#ff0000","#000000","#0000ff","#ff0000"]}, "legend": null}}},
 {"data": {"name": "labels"}, "transform": [{"filter": "datum.p == 'B4' && datum.k == 1"}], "mark": {"type": "text", "align": "left", "baseline": "alphabetic", "dy": -5}, "encoding": {"x": {"datum": 0, "type": "quantitative", "scale": {"domain": [0, 168], "nice": false, "zero": false}}, "y": {"datum": 1000, "type": "quantitative", "scale": {"type": "log", "domain": [0.00001, 1000], "nice": false}}, "text": {"field": "label"}, "color": {"field": "s", "type": "nominal", "scale": {"domain": ["lo","hi","p1","p2","p3","p4","he","cno","fe"], "range": ["#000000","#0000ff","#000000","#0000ff","#c98468","#ff0000","#000000","#0000ff","#ff0000"]}, "legend": null}}},
 {"data": {"name": "labels"}, "transform": [{"filter": "datum.p == 'B4' && datum.k == 2"}], "mark": {"type": "text", "align": "left", "baseline": "alphabetic", "dy": -5}, "encoding": {"x": {"datum": 86.5, "type": "quantitative", "scale": {"domain": [0, 168], "nice": false, "zero": false}}, "y": {"datum": 1000, "type": "quantitative", "scale": {"type": "log", "domain": [0.00001, 1000], "nice": false}}, "text": {"field": "label"}, "color": {"field": "s", "type": "nominal", "scale": {"domain": ["lo","hi","p1","p2","p3","p4","he","cno","fe"], "range": ["#000000","#0000ff","#000000","#0000ff","#c98468","#ff0000","#000000","#0000ff","#ff0000"]}, "legend": null}}},
 {"data": {"name": "labels"}, "transform": [{"filter": "datum.p == 'B4' && datum.k == 3"}], "mark": {"type": "text", "align": "left", "baseline": "alphabetic", "dy": -5}, "encoding": {"x": {"datum": 177.1, "type": "quantitative", "scale": {"domain": [0, 168], "nice": false, "zero": false}}, "y": {"datum": 1000, "type": "quantitative", "scale": {"type": "log", "domain": [0.00001, 1000], "nice": false}}, "text": {"field": "label"}, "color": {"field": "s", "type": "nominal", "scale": {"domain": ["lo","hi","p1","p2","p3","p4","he","cno","fe"], "range": ["#000000","#0000ff","#000000","#0000ff","#c98468","#ff0000","#000000","#0000ff","#ff0000"]}, "legend": null}}}
]},
{"width": 297, "height": 180, "layer": [
 {"data": {"name": "A4"}, "mark": {"type": "line", "strokeWidth": 2.5}, "encoding": {
  "x": {"field": "h", "type": "quantitative", "scale": {"domain": [0, 168], "nice": false, "zero": false}, "axis": {"values": [0,12,24,36,48,60,72,84,96,108,120,132,144,156,168], "labelExpr": "datum.value % 48 == 0 ? ['20-Sep','22-Sep','24-Sep','26-Sep'][datum.value / 48] : ''", "title": "STEREO Ahead", "titleAnchor": "end"}},
  "y": {"field": "v", "type": "quantitative", "scale": {"type": "log", "domain": [0.00001, 1000], "nice": false}, "axis": {"values": [0.00001,0.0001,0.001,0.01,0.1,1,10,100,1000], "labelExpr": "round(log(datum.value)/LN10) % 2 == 0 ? '10' + ['⁻⁵','⁻⁴','⁻³','⁻²','⁻¹','⁰','¹','²','³','⁴','⁵','⁶','⁷'][round(log(datum.value)/LN10) + 5] : ''", "title": "1/(cm² s sr MeV/nuc.)"}},
  "color": {"field": "s", "type": "nominal", "scale": {"domain": ["lo","hi","p1","p2","p3","p4","he","cno","fe"], "range": ["#000000","#0000ff","#000000","#0000ff","#c98468","#ff0000","#000000","#0000ff","#ff0000"]}, "legend": null}}},
 {"data": {"name": "bases"}, "transform": [{"filter": "datum.p == 'A4'"}], "mark": {"type": "rule", "strokeWidth": 1}, "encoding": {
  "x": {"field": "h1", "type": "quantitative", "scale": {"domain": [0, 168], "nice": false, "zero": false}}, "x2": {"field": "h2"},
  "y": {"field": "v", "type": "quantitative", "scale": {"type": "log", "domain": [0.00001, 1000], "nice": false}},
  "color": {"field": "s", "type": "nominal", "scale": {"domain": ["lo","hi","p1","p2","p3","p4","he","cno","fe"], "range": ["#000000","#0000ff","#000000","#0000ff","#c98468","#ff0000","#000000","#0000ff","#ff0000"]}, "legend": null}}},
 {"data": {"name": "floors"}, "transform": [{"filter": "datum.p == 'A4'"}], "mark": {"type": "rule", "strokeWidth": 2, "strokeDash": [7, 3]}, "encoding": {
  "x": {"field": "h1", "type": "quantitative", "scale": {"domain": [0, 168], "nice": false, "zero": false}}, "x2": {"field": "h2"},
  "y": {"field": "v", "type": "quantitative", "scale": {"type": "log", "domain": [0.00001, 1000], "nice": false}},
  "color": {"field": "s", "type": "nominal", "scale": {"domain": ["lo","hi","p1","p2","p3","p4","he","cno","fe"], "range": ["#000000","#0000ff","#000000","#0000ff","#c98468","#ff0000","#000000","#0000ff","#ff0000"]}, "legend": null}}}
]}
],
"columns": 2,
"bounds": "flush",
"spacing": {"row": 36, "column": 103}
}
